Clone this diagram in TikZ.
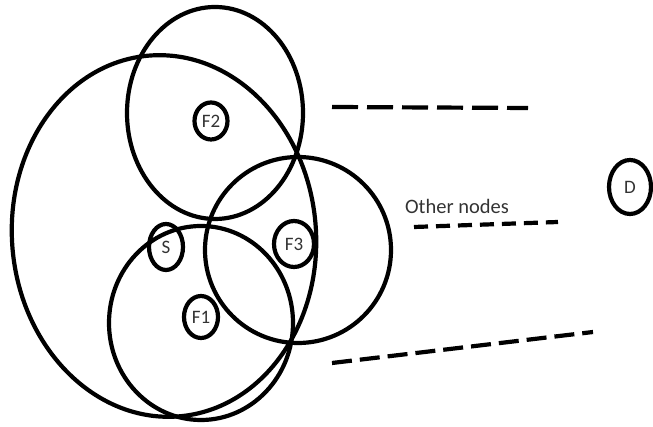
\documentclass[tikz,border=0pt]{standalone}
\usepackage{fontspec}
\setmainfont{Carlito}
\usetikzlibrary{shapes.geometric}
\begin{document}
\begin{tikzpicture}[x=1pt,y=1pt,
  ring/.style={draw=black,line width=4.2pt,ellipse,inner sep=0pt},
  small/.style={ring,font=\fontsize{19}{19}\selectfont,text=black!80},
  dashline/.style={draw=black,line width=4.2pt}]
\useasboundingbox (0,0) rectangle (653,427);
% large regions
\node[ring,minimum width=304pt,minimum height=362pt,rotate=5] (big) at (164,191) {};
\node[ring,minimum width=176pt,minimum height=212pt] (topc) at (215,314) {};
\node[ring,minimum width=186pt,minimum height=186pt] (midc) at (298,177) {};
\node[ring,minimum width=184pt,minimum height=194pt] (botc) at (201,104) {};
% small nodes
\node[small,minimum width=33pt,minimum height=37pt] (F2) at (211,306) {F2};
\node[small,minimum width=34pt,minimum height=46pt] (S) at (166,180) {S};
\node[small,minimum width=40pt,minimum height=46pt] (F3) at (294,183) {F3};
\node[small,minimum width=34pt,minimum height=42pt] (F1) at (201,110) {F1};
\node[small,minimum width=42pt,minimum height=54pt] (D) at (630,240) {D};
% text
\node[font=\fontsize{20.5}{20.5}\selectfont,text=black!80] (other) at (457,221) {Other nodes};
% dashed lines
\coordinate (a1) at (332,320); \coordinate (a2) at (528,319);
\coordinate (b1) at (414,200); \coordinate (b2) at (558,205);
\coordinate (c1) at (332,64);  \coordinate (c2) at (593,95);
\draw[dashline,dash pattern=on 26pt off 9pt] (a1) -- (a2);
\draw[dashline,dash pattern=on 14pt off 8pt] (b1) -- (b2);
\draw[dashline,dash pattern=on 20pt off 8pt] (c1) -- (c2);
\end{tikzpicture}
\end{document}
